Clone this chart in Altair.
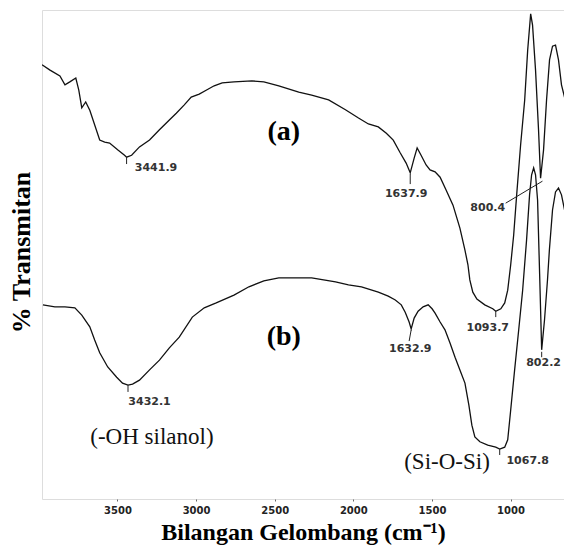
import altair as alt
import pandas as pd

# ---- spectrum (a) ----
wn_a = [3980, 3929, 3866, 3834, 3803, 3765, 3746, 3727, 3702, 3676, 3613, 3581, 3550, 3499, 3455, 3442,
        3410, 3360, 3296, 3233, 3170, 3126, 3075, 3031, 2980, 2936, 2885, 2834, 2759, 2645, 2569, 2474,
        2347, 2265, 2157, 2050, 1967, 1904, 1841, 1790, 1746, 1702, 1664, 1638, 1613, 1594, 1569, 1537,
        1512, 1480, 1448, 1410, 1366, 1322, 1290, 1271, 1259, 1240, 1214, 1164, 1113, 1094, 1062, 1037,
        1018, 999, 980, 961, 936, 910, 891, 872, 860, 841, 822, 809, 790, 771, 752, 733, 714, 695, 676,
        657, 638]
tr_a = [88.8, 87.7, 86.5, 84.7, 85.3, 86.1, 83.6, 80.0, 81.2, 79.5, 73.4, 73.0, 72.8, 71.4, 70.3, 69.9,
        70.3, 72.0, 73.4, 75.5, 77.5, 78.9, 80.6, 82.2, 82.8, 83.6, 84.5, 85.1, 85.3, 85.5, 85.3, 84.5,
        83.2, 82.6, 81.6, 79.6, 77.9, 76.7, 76.1, 74.8, 73.4, 70.8, 68.7, 66.7, 69.7, 71.8, 70.3, 68.3,
        67.3, 66.9, 65.8, 63.2, 60.1, 55.4, 50.9, 47.9, 44.8, 42.3, 40.9, 39.7, 38.9, 38.4, 38.9, 40.1,
        42.7, 47.9, 54.0, 62.2, 72.4, 81.6, 91.8, 99.2, 96.9, 87.7, 75.5, 65.6, 71.4, 81.6, 89.8, 92.6,
        92.8, 89.8, 84.7, 82.2, 83.2]

# ---- spectrum (b) ----
wn_b = [3974, 3898, 3834, 3771, 3727, 3676, 3645, 3613, 3562, 3505, 3468, 3433, 3404, 3360, 3296, 3233,
        3170, 3107, 3024, 2948, 2872, 2759, 2664, 2569, 2474, 2347, 2265, 2189, 2113, 2031, 1948, 1841,
        1778, 1733, 1695, 1670, 1645, 1632, 1613, 1588, 1556, 1524, 1499, 1480, 1448, 1417, 1385, 1353,
        1322, 1290, 1265, 1246, 1227, 1195, 1145, 1094, 1069, 1037, 1018, 999, 974, 948, 923, 898, 879,
        866, 853, 841, 828, 815, 802, 784, 765, 753, 733, 714, 695, 676, 650, 625]
tr_b = [39.7, 39.3, 39.3, 39.1, 37.6, 35.2, 32.5, 29.9, 27.0, 24.9, 23.7, 23.3, 23.5, 24.3, 26.4, 28.4,
        30.9, 33.1, 37.2, 39.1, 40.1, 41.7, 43.4, 44.6, 45.2, 45.2, 45.2, 44.8, 44.4, 43.8, 43.4, 42.3,
        41.5, 40.7, 39.7, 38.2, 36.2, 34.8, 37.0, 38.4, 39.3, 39.7, 38.9, 38.0, 36.2, 34.6, 31.9, 29.0,
        26.4, 23.7, 19.2, 15.1, 12.7, 11.7, 11.0, 10.6, 10.2, 10.6, 12.1, 18.2, 26.4, 34.6, 42.7, 53.0,
        62.2, 66.3, 67.7, 66.3, 61.1, 46.0, 30.5, 36.6, 44.8, 50.9, 59.1, 62.8, 63.6, 62.2, 58.1, 54.0]

x_ticks = [3500, 3000, 2500, 2000, 1500, 1000]

# ---- peak labels ----
peak_text = ["3441.9", "1637.9", "800.4", "1093.7", "1632.9", "802.2", "3432.1", "1067.8"]
peak_wn = [3255, 1664, 1145, 1145, 1638, 790, 3296, 891]
peak_tr = [67.7, 62.4, 59.5, 35.0, 30.7, 27.8, 19.8, 7.8]

# pointer ticks from peaks to labels
ptr_wn1 = [3442, 1638, 1031, 1094, 1632, 802, 3433, 1069]
ptr_wn2 = [3442, 1638, 797, 1094, 1645, 802, 3433, 1069]
ptr_tr1 = [69.9, 66.5, 60.5, 38.4, 34.6, 30.1, 23.3, 10.2]
ptr_tr2 = [68.5, 64.4, 65.0, 37.2, 32.3, 29.0, 21.9, 9.0]

series_text = ["(a)", "(b)"]
series_wn = [2442, 2442]
series_tr = [75.1, 33.1]

note_text = ["(-OH silanol)", "(Si-O-Si)"]
note_wn = [3281, 1404]
note_tr = [12.7, 7.6]

df_lines = pd.concat([
    pd.DataFrame({"wn": wn_a, "tr": tr_a, "s": "a"}),
    pd.DataFrame({"wn": wn_b, "tr": tr_b, "s": "b"}),
], ignore_index=True)
df_peaks = pd.DataFrame({"wn": peak_wn, "tr": peak_tr, "t": peak_text})
df_ptr = pd.DataFrame({"w1": ptr_wn1, "w2": ptr_wn2, "t1": ptr_tr1, "t2": ptr_tr2})
df_series = pd.DataFrame({"wn": series_wn, "tr": series_tr, "t": series_text})
df_notes = pd.DataFrame({"wn": note_wn, "tr": note_tr, "t": note_text})

xscale = alt.Scale(domain=[3980, 660], nice=False, zero=False)
yscale = alt.Scale(domain=[0, 100], nice=False, zero=False)

xaxis = alt.Axis(values=x_ticks, format="d", title="Bilangan Gelombang (cm⁻¹)",
                 grid=False, domain=False, tickSize=2, tickColor="#666",
                 labelFont="DejaVu Sans", labelFontWeight="bold", labelFontSize=10,
                 labelColor="#222", labelPadding=4,
                 titleFont="Liberation Serif", titleFontWeight="bold", titleFontSize=24,
                 titleColor="#000", titleY=40, titleBaseline="alphabetic")
yaxis = alt.Axis(title="% Transmitan", labels=False, ticks=False, grid=False, domain=False,
                 titleFont="Liberation Serif", titleFontWeight="bold", titleFontSize=26,
                 titleColor="#000", titleX=-21, titleY=242, titleAngle=270,
                 titleAlign="center", titleBaseline="middle")

lines = alt.Chart(df_lines).mark_line(color="#111", strokeWidth=1.3, clip=True).encode(
    x=alt.X("wn:Q", scale=xscale, axis=xaxis),
    y=alt.Y("tr:Q", scale=yscale, axis=yaxis),
    detail="s:N",
    order="idx:Q",
).transform_window(idx="row_number()", groupby=["s"])

ptrs = alt.Chart(df_ptr).mark_rule(color="#222", strokeWidth=1).encode(
    x=alt.X("w1:Q", scale=xscale), x2="w2:Q",
    y=alt.Y("t1:Q", scale=yscale), y2="t2:Q",
)

peaks = alt.Chart(df_peaks).mark_text(font="DejaVu Sans", fontWeight="bold", fontSize=11,
                                      color="#333", align="center", baseline="middle").encode(
    x=alt.X("wn:Q", scale=xscale), y=alt.Y("tr:Q", scale=yscale), text="t:N")

series = alt.Chart(df_series).mark_text(font="Liberation Serif", fontWeight="bold", fontSize=28,
                                        color="#000", align="center", baseline="middle").encode(
    x=alt.X("wn:Q", scale=xscale), y=alt.Y("tr:Q", scale=yscale), text="t:N")

notes = alt.Chart(df_notes).mark_text(font="Liberation Serif", fontSize=23,
                                      color="#111", align="center", baseline="middle").encode(
    x=alt.X("wn:Q", scale=xscale), y=alt.Y("tr:Q", scale=yscale), text="t:N")

chart = alt.layer(lines, ptrs, peaks, series, notes).properties(
    width=522, height=489,
    autosize=alt.AutoSizeParams(type="none"),
    padding={"left": 34, "top": 2, "right": 0, "bottom": 47},
).configure_view(stroke="#222", strokeWidth=1.5).configure(background="white")

chart.save("out.html", embed_options={"renderer": "svg", "actions": False})
